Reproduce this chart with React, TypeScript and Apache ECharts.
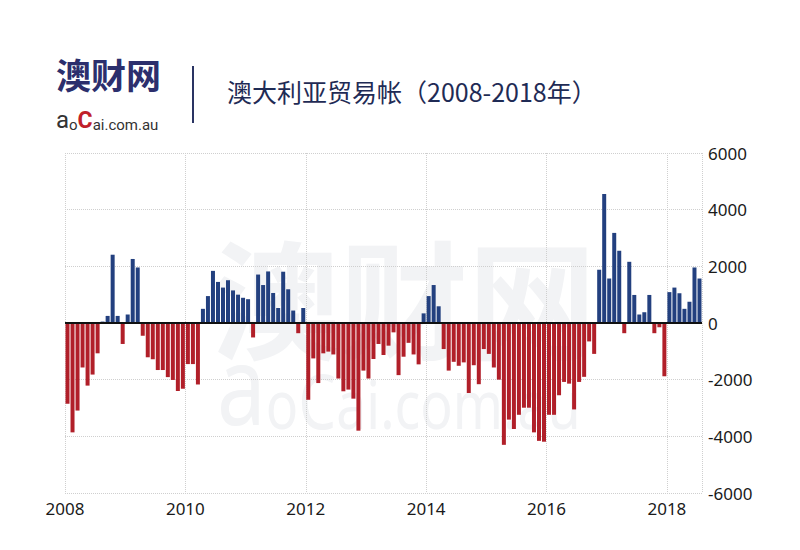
import React, { useEffect, useRef } from "react";
import * as echarts from "echarts";

const START_YEAR = 2008;
const yearLabels = ["2008", "2010", "2012", "2014", "2016", "2018"];
const yTicks = [-6000, -4000, -2000, 0, 2000, 4000, 6000];

const v2008 = [-2850, -3860, -3090, -1570, -2210, -1820, -1070, 50, 250, 2410, 250, -740];
const v2009 = [300, 2260, 1960, -450, -1210, -1280, -1660, -1660, -1910, -2010, -2400, -2320];
const v2010 = [-1450, -1450, -2170, 500, 950, 1840, 1450, 1250, 1510, 1150, 1000, 890];
const v2011 = [840, -510, 1710, 1340, 1820, 1060, 530, 1810, 1190, 440, -360, 530];
const v2012 = [-2710, -1250, -2120, -1070, -1010, -1110, -1960, -2410, -2350, -2670, -3800, -1680];
const v2013 = [-1960, -1270, -740, -1130, -800, -330, -1840, -1190, -700, -1110, -1460, 340];
const v2014 = [950, 1340, 590, -920, -1680, -1370, -1510, -1390, -2470, -1490, -2160, -920];
const v2015 = [-1090, -1570, -2000, -4300, -3410, -3740, -3240, -2990, -2990, -3860, -4160, -4190];
const v2016 = [-3240, -3240, -2550, -2080, -2140, -3050, -2080, -1900, -650, -1090, 1880, 4550];
const v2017 = [1570, 3180, 2550, -360, 2160, 990, 300, 380, 990, -360, -150, -1880];
const v2018 = [1090, 1250, 1050, 500, 750, 1960, 1570];

const monthly = [
  ...v2008, ...v2009, ...v2010, ...v2011, ...v2012, ...v2013,
  ...v2014, ...v2015, ...v2016, ...v2017, ...v2018,
];

const BLUE = "#23407f";
const RED = "#b11f29";
const WM = "#f2f3f5";

export default function App() {
  const ref = useRef<HTMLDivElement>(null);

  useEffect(() => {
    if (!ref.current) return;
    const chart = echarts.init(ref.current, undefined, { renderer: "svg" });
    const nMonths = monthly.length;
    const data = monthly.map((v, i) => [i + 0.5, v]);

    // baseline-aligned rich tokens: lineHeight = 2*c*fontSize + K with verticalAlign bottom
    const tok = (fs: number, c: number, k: number, extra: any) => ({
      fontSize: fs,
      lineHeight: Math.round((2 * c * fs + k) * 10) / 10,
      verticalAlign: "bottom",
      ...extra,
    });

    chart.setOption({
      animation: false,
      backgroundColor: "#ffffff",
      grid: { left: 65, right: 98, top: 153, bottom: 57, containLabel: false },
      graphic: [
        {
          type: "text",
          x: 212,
          y: 230,
          z: -10,
          silent: true,
          style: {
            text: "澳财网",
            fontSize: 128,
            lineHeight: 128,
            fontWeight: "bold",
            fontFamily: "Noto Sans CJK SC",
            fill: WM,
          },
        },
        {
          type: "text",
          x: 217,
          y: 332,
          scaleX: 0.79,
          z: -10,
          silent: true,
          style: {
            text: "{a|a}{o|o}{c|C}{r|ai.com.au}",
            fontFamily: "Noto Sans",
            fill: WM,
            rich: {
              a: tok(110, 0.388, 20, { fill: WM, fontFamily: "Noto Sans" }),
              o: tok(68, 0.388, 20, { fill: WM, fontFamily: "Noto Sans" }),
              c: tok(76, 0.388, 20, { fill: WM, fontFamily: "Noto Sans" }),
              r: tok(68, 0.388, 20, { fill: WM, fontFamily: "Noto Sans" }),
            },
          },
        },
        {
          type: "text",
          left: 56,
          top: 56,
          style: {
            text: "{t|澳财网}\n{a|a}{o|o}{c|C}{r|ai.com.au}",
            fontFamily: "Roboto",
            rich: {
              t: { fontSize: 35, lineHeight: 41, fontWeight: "bold", fill: "#2c2f6d", fontFamily: "Noto Sans CJK SC" },
              a: tok(24, 0.34, 22, { fill: "#333333", fontFamily: "Roboto" }),
              o: tok(15, 0.34, 22, { fill: "#333333", fontFamily: "Roboto" }),
              c: tok(23, 0.34, 22, { fill: "#c0202b", fontWeight: "bold", fontFamily: "Roboto" }),
              r: tok(15, 0.34, 22, { fill: "#333333", fontFamily: "Roboto" }),
            },
          },
        },
        {
          type: "line",
          shape: { x1: 193, y1: 66, x2: 193, y2: 123 },
          style: { stroke: "#2a3463", lineWidth: 2 },
        },
        {
          type: "text",
          left: 227,
          top: 78,
          style: {
            text: "澳大利亚贸易帐（2008-2018年）",
            fontSize: 25,
            fontFamily: "Noto Sans CJK SC",
            fill: "#1f2b55",
          },
        },
      ],
      xAxis: {
        type: "value",
        min: 0,
        max: nMonths,
        interval: 24,
        axisLine: { show: false },
        axisTick: { show: false },
        axisLabel: {
          margin: 7,
          fontSize: 17,
          color: "#1a1a1a",
          fontFamily: "Noto Sans",
          formatter: (v: number) => {
            if (v % 24 !== 0) return "";
            const idx = v / 24;
            return yearLabels[idx] ?? String(START_YEAR + v / 12);
          },
        },
        splitLine: { show: true, lineStyle: { color: "#cfcfcf", type: "dotted", width: 1 } },
      },
      yAxis: {
        type: "value",
        position: "right",
        min: yTicks[0],
        max: yTicks[yTicks.length - 1],
        interval: 2000,
        axisLine: { show: false },
        axisTick: { show: false },
        axisLabel: {
          margin: 6,
          fontSize: 17,
          color: "#1a1a1a",
          fontFamily: "Noto Sans",
          formatter: (v: number) => String(v),
        },
        splitLine: { show: true, lineStyle: { color: "#cfcfcf", type: "dotted", width: 1 } },
      },
      series: [
        {
          type: "bar",
          data,
          barWidth: 4,
          itemStyle: {
            color: (p: any) => (p.value[1] >= 0 ? BLUE : RED),
          },
          markLine: {
            silent: true,
            symbol: "none",
            label: { show: false },
            lineStyle: { color: "#111111", width: 2, type: "solid" },
            data: [{ yAxis: 0 }],
          },
        },
      ],
    });

    return () => chart.dispose();
  }, []);

  return (
    <div
      ref={ref}
      style={{ position: "fixed", left: 0, top: 0, width: 800, height: 550, background: "#fff" }}
    />
  );
}
